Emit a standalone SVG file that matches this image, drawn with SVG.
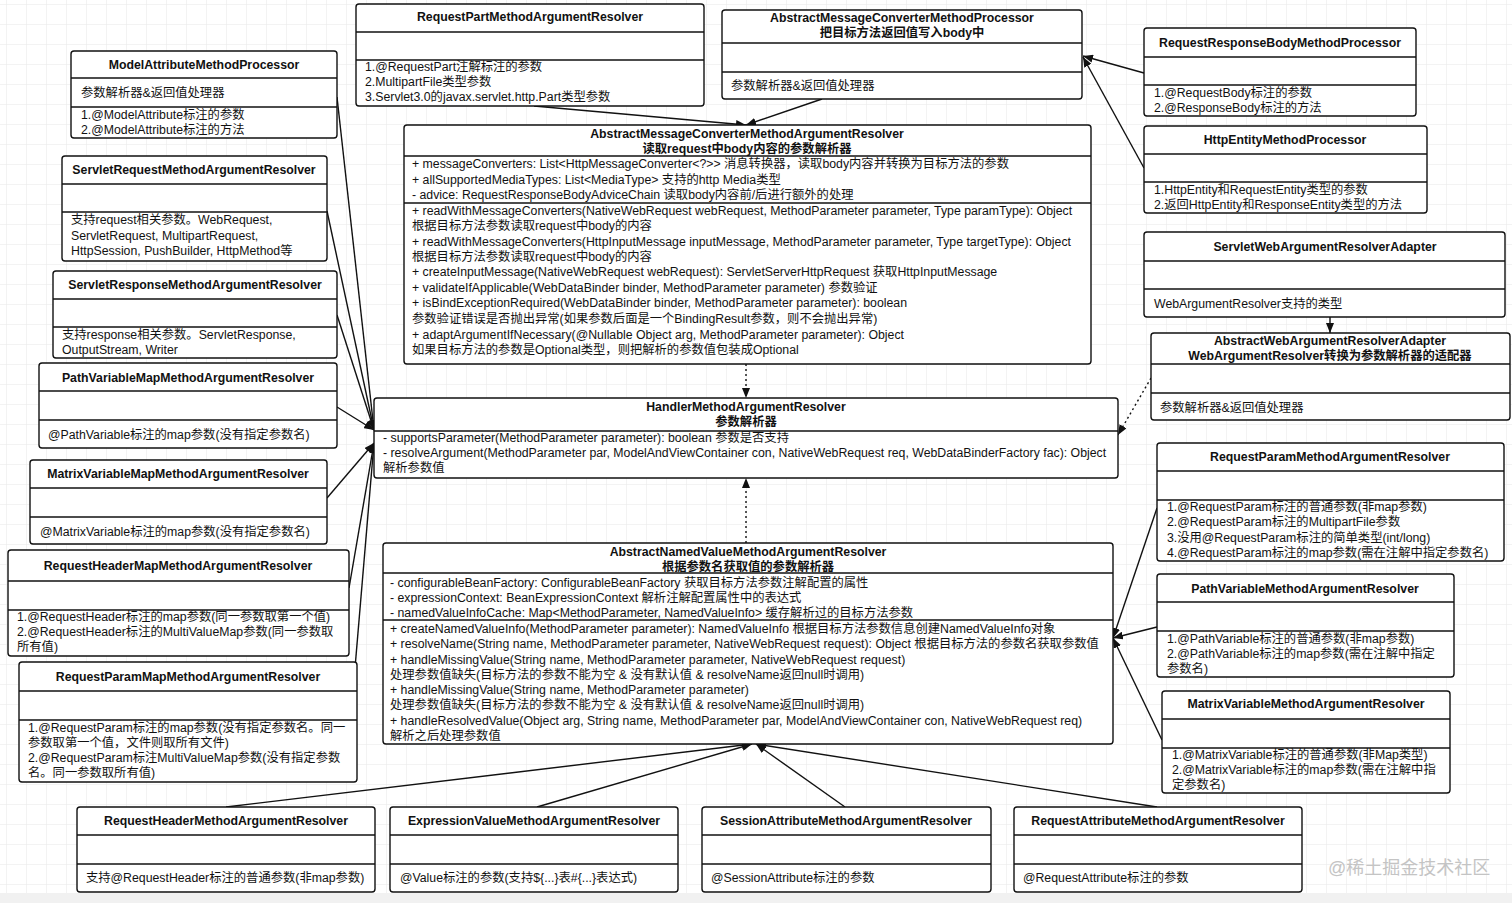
<svg xmlns="http://www.w3.org/2000/svg" width="1512" height="903" viewBox="0 0 1512 903">
<defs>
<pattern id="grid" width="20" height="20" patternUnits="userSpaceOnUse" x="6" y="4">
<path d="M20 0 L0 0 L0 20" fill="none" stroke="#e8e8e8" stroke-width="1"/>
</pattern>
<marker id="arr" viewBox="0 0 10 8" refX="10" refY="4" markerWidth="10" markerHeight="8" markerUnits="userSpaceOnUse" orient="auto">
<path d="M0,0 L10,4 L0,8 z" fill="#111"/>
</marker>
<style>
.box{fill:#fff;stroke:#111;stroke-width:1.4}
.sep{stroke:#111;stroke-width:1.4}
.t{font-family:"Liberation Sans","Noto Sans CJK SC",sans-serif;font-size:12.3px;font-weight:bold;text-anchor:middle;fill:#111}
.b{font-family:"Liberation Sans","Noto Sans CJK SC",sans-serif;font-size:12.3px;fill:#111}
.c{stroke:#111;stroke-width:1.4;fill:none;marker-end:url(#arr)}
.d{stroke-dasharray:2 3}
.wm{font-family:"Liberation Sans","Noto Sans CJK SC",sans-serif;font-size:18px;fill:#c4c4c4}
</style>
</defs>
<rect width="1512" height="903" fill="#fff"/>
<rect width="1512" height="893" fill="url(#grid)"/>
<rect y="893" width="1512" height="10" fill="#f1f1f1"/>

<g id="connectors">
<line class="c" x1="534" y1="106" x2="746" y2="125"/>
<line class="c" x1="822" y1="99" x2="746" y2="125"/>
<line class="c" x1="1144" y1="73" x2="1083" y2="56"/>
<line class="c" x1="1144" y1="168" x2="1083" y2="57"/>
<line class="c d" x1="746" y1="364" x2="746" y2="398"/>
<line class="c d" x1="746" y1="543" x2="746" y2="478"/>
<line class="c d" x1="1151" y1="378" x2="1118" y2="435"/>
<line class="c" x1="1330" y1="317" x2="1330" y2="333"/>
<line class="c" x1="337" y1="97" x2="374" y2="430"/>
<line class="c" x1="327" y1="211" x2="374" y2="430"/>
<line class="c" x1="337" y1="315" x2="374" y2="430"/>
<line class="c" x1="337" y1="407" x2="374" y2="430"/>
<line class="c" x1="327" y1="498" x2="374" y2="443"/>
<line class="c" x1="349" y1="588" x2="374" y2="443"/>
<line class="c" x1="355" y1="668" x2="374" y2="443"/>
<line class="c" x1="1157" y1="508" x2="1113" y2="638"/>
<line class="c" x1="1157" y1="627" x2="1113" y2="638"/>
<line class="c" x1="1162" y1="740" x2="1113" y2="638"/>
<line class="c" x1="226" y1="807" x2="752" y2="744"/>
<line class="c" x1="537" y1="807" x2="752" y2="744"/>
<line class="c" x1="845" y1="807" x2="756" y2="744"/>
<line class="c" x1="1157" y1="807" x2="756" y2="744"/>
</g>

<g id="n-modelattr">
<rect class="box" x="71" y="51" width="266" height="87" rx="3"/>
<line class="sep" x1="71" y1="78" x2="337" y2="78"/>
<line class="sep" x1="71" y1="107" x2="337" y2="107"/>
<text class="t" x="204" y="69">ModelAttributeMethodProcessor</text>
<text class="b" x="81" y="97">参数解析器&amp;返回值处理器</text>
<text class="b" x="81" y="119">1.@ModelAttribute标注的参数</text>
<text class="b" x="81" y="134">2.@ModelAttribute标注的方法</text>
</g>

<g id="n-servletreq">
<rect class="box" x="62" y="156" width="265" height="105" rx="3"/>
<line class="sep" x1="62" y1="184" x2="327" y2="184"/>
<line class="sep" x1="62" y1="212" x2="327" y2="212"/>
<text class="t" x="194" y="174">ServletRequestMethodArgumentResolver</text>
<text class="b" x="71" y="224">支持request相关参数。WebRequest,</text>
<text class="b" x="71" y="240">ServletRequest, MultipartRequest,</text>
<text class="b" x="71" y="255">HttpSession, PushBuilder, HttpMethod等</text>
</g>

<g id="n-servletresp">
<rect class="box" x="53" y="271" width="284" height="87" rx="3"/>
<line class="sep" x1="53" y1="299" x2="337" y2="299"/>
<line class="sep" x1="53" y1="327" x2="337" y2="327"/>
<text class="t" x="195" y="289">ServletResponseMethodArgumentResolver</text>
<text class="b" x="62" y="339">支持response相关参数。ServletResponse,</text>
<text class="b" x="62" y="354">OutputStream, Writer</text>
</g>

<g id="n-pathvarmap">
<rect class="box" x="39" y="363" width="298" height="85" rx="3"/>
<line class="sep" x1="39" y1="391" x2="337" y2="391"/>
<line class="sep" x1="39" y1="420" x2="337" y2="420"/>
<text class="t" x="188" y="382">PathVariableMapMethodArgumentResolver</text>
<text class="b" x="48" y="439">@PathVariable标注的map参数(没有指定参数名)</text>
</g>

<g id="n-matrixmap">
<rect class="box" x="30" y="460" width="297" height="84" rx="3"/>
<line class="sep" x1="30" y1="488" x2="327" y2="488"/>
<line class="sep" x1="30" y1="517" x2="327" y2="517"/>
<text class="t" x="178" y="478">MatrixVariableMapMethodArgumentResolver</text>
<text class="b" x="40" y="536">@MatrixVariable标注的map参数(没有指定参数名)</text>
</g>

<g id="n-reqheadermap">
<rect class="box" x="8" y="550" width="341" height="106" rx="3"/>
<line class="sep" x1="8" y1="581" x2="349" y2="581"/>
<line class="sep" x1="8" y1="610" x2="349" y2="610"/>
<text class="t" x="178" y="570">RequestHeaderMapMethodArgumentResolver</text>
<text class="b" x="17" y="621">1.@RequestHeader标注的map参数(同一参数取第一个值)</text>
<text class="b" x="17" y="636">2.@RequestHeader标注的MultiValueMap参数(同一参数取</text>
<text class="b" x="17" y="651">所有值)</text>
</g>

<g id="n-reqparammap">
<rect class="box" x="19" y="662" width="338" height="120" rx="3"/>
<line class="sep" x1="19" y1="691" x2="357" y2="691"/>
<line class="sep" x1="19" y1="720" x2="357" y2="720"/>
<text class="t" x="188" y="681">RequestParamMapMethodArgumentResolver</text>
<text class="b" x="28" y="732">1.@RequestParam标注的map参数(没有指定参数名。同一</text>
<text class="b" x="28" y="747">参数取第一个值，文件则取所有文件)</text>
<text class="b" x="28" y="762">2.@RequestParam标注MultiValueMap参数(没有指定参数</text>
<text class="b" x="28" y="777">名。同一参数取所有值)</text>
</g>

<g id="n-reqheader">
<rect class="box" x="77" y="807" width="298" height="85" rx="3"/>
<line class="sep" x1="77" y1="835" x2="375" y2="835"/>
<line class="sep" x1="77" y1="864" x2="375" y2="864"/>
<text class="t" x="226" y="825">RequestHeaderMethodArgumentResolver</text>
<text class="b" x="86" y="882">支持@RequestHeader标注的普通参数(非map参数)</text>
</g>

<g id="n-exprvalue">
<rect class="box" x="390" y="807" width="288" height="85" rx="3"/>
<line class="sep" x1="390" y1="835" x2="678" y2="835"/>
<line class="sep" x1="390" y1="864" x2="678" y2="864"/>
<text class="t" x="534" y="825">ExpressionValueMethodArgumentResolver</text>
<text class="b" x="400" y="882">@Value标注的参数(支持${...}表#{...}表达式)</text>
</g>

<g id="n-sessionattr">
<rect class="box" x="702" y="807" width="289" height="85" rx="3"/>
<line class="sep" x1="702" y1="835" x2="991" y2="835"/>
<line class="sep" x1="702" y1="864" x2="991" y2="864"/>
<text class="t" x="846" y="825">SessionAttributeMethodArgumentResolver</text>
<text class="b" x="711" y="882">@SessionAttribute标注的参数</text>
</g>

<g id="n-reqattr">
<rect class="box" x="1014" y="807" width="288" height="85" rx="3"/>
<line class="sep" x1="1014" y1="835" x2="1302" y2="835"/>
<line class="sep" x1="1014" y1="864" x2="1302" y2="864"/>
<text class="t" x="1158" y="825">RequestAttributeMethodArgumentResolver</text>
<text class="b" x="1023" y="882">@RequestAttribute标注的参数</text>
</g>

<g id="n-reqpart">
<rect class="box" x="356" y="4" width="348" height="102" rx="3"/>
<line class="sep" x1="356" y1="32" x2="704" y2="32"/>
<line class="sep" x1="356" y1="60" x2="704" y2="60"/>
<text class="t" x="530" y="21">RequestPartMethodArgumentResolver</text>
<text class="b" x="365" y="71">1.@RequestPart注解标注的参数</text>
<text class="b" x="365" y="86">2.MultipartFile类型参数</text>
<text class="b" x="365" y="101">3.Servlet3.0的javax.servlet.http.Part类型参数</text>
</g>

<g id="n-amcmp">
<rect class="box" x="722" y="10" width="360" height="89" rx="3"/>
<line class="sep" x1="722" y1="43" x2="1082" y2="43"/>
<line class="sep" x1="722" y1="72" x2="1082" y2="72"/>
<text class="t" x="902" y="22">AbstractMessageConverterMethodProcessor</text>
<text class="t" x="902" y="37">把目标方法返回值写入body中</text>
<text class="b" x="731" y="90">参数解析器&amp;返回值处理器</text>
</g>

<g id="n-amcmar">
<rect class="box" x="404" y="125" width="687" height="239" rx="3"/>
<line class="sep" x1="404" y1="156" x2="1091" y2="156"/>
<line class="sep" x1="404" y1="203" x2="1091" y2="203"/>
<text class="t" x="747" y="138">AbstractMessageConverterMethodArgumentResolver</text>
<text class="t" x="747" y="153">读取request中body内容的参数解析器</text>
<text class="b" x="412" y="168">+ messageConverters: List&lt;HttpMessageConverter&lt;?&gt;&gt; 消息转换器，读取body内容并转换为目标方法的参数</text>
<text class="b" x="412" y="184">+ allSupportedMediaTypes: List&lt;MediaType&gt; 支持的http Media类型</text>
<text class="b" x="412" y="199">- advice: RequestResponseBodyAdviceChain 读取body内容前/后进行额外的处理</text>
<text class="b" x="412" y="215">+ readWithMessageConverters(NativeWebRequest webRequest, MethodParameter parameter, Type paramType): Object</text>
<text class="b" x="412" y="230">根据目标方法参数读取request中body的内容</text>
<text class="b" x="412" y="246">+ readWithMessageConverters(HttpInputMessage inputMessage, MethodParameter parameter, Type targetType): Object</text>
<text class="b" x="412" y="261">根据目标方法参数读取request中body的内容</text>
<text class="b" x="412" y="276">+ createInputMessage(NativeWebRequest webRequest): ServletServerHttpRequest 获取HttpInputMessage</text>
<text class="b" x="412" y="292">+ validateIfApplicable(WebDataBinder binder, MethodParameter parameter)  参数验证</text>
<text class="b" x="412" y="307">+ isBindExceptionRequired(WebDataBinder binder, MethodParameter parameter): boolean</text>
<text class="b" x="412" y="323">参数验证错误是否抛出异常(如果参数后面是一个BindingResult参数，则不会抛出异常)</text>
<text class="b" x="412" y="339">+ adaptArgumentIfNecessary(@Nullable Object arg, MethodParameter parameter): Object</text>
<text class="b" x="412" y="354">如果目标方法的参数是Optional类型，则把解析的参数值包装成Optional</text>
</g>

<g id="n-rrbmp">
<rect class="box" x="1144" y="28" width="272" height="88" rx="3"/>
<line class="sep" x1="1144" y1="57" x2="1416" y2="57"/>
<line class="sep" x1="1144" y1="85" x2="1416" y2="85"/>
<text class="t" x="1280" y="47">RequestResponseBodyMethodProcessor</text>
<text class="b" x="1154" y="97">1.@RequestBody标注的参数</text>
<text class="b" x="1154" y="112">2.@ResponseBody标注的方法</text>
</g>

<g id="n-httpentity">
<rect class="box" x="1144" y="126" width="283" height="87" rx="3"/>
<line class="sep" x1="1144" y1="154" x2="1427" y2="154"/>
<line class="sep" x1="1144" y1="182" x2="1427" y2="182"/>
<text class="t" x="1285" y="144">HttpEntityMethodProcessor</text>
<text class="b" x="1154" y="194">1.HttpEntity和RequestEntity类型的参数</text>
<text class="b" x="1154" y="209">2.返回HttpEntity和ResponseEntity类型的方法</text>
</g>

<g id="n-swara">
<rect class="box" x="1144" y="232" width="361" height="85" rx="3"/>
<line class="sep" x1="1144" y1="261" x2="1505" y2="261"/>
<line class="sep" x1="1144" y1="289" x2="1505" y2="289"/>
<text class="t" x="1325" y="251">ServletWebArgumentResolverAdapter</text>
<text class="b" x="1154" y="308">WebArgumentResolver支持的类型</text>
</g>

<g id="n-awara">
<rect class="box" x="1151" y="333" width="359" height="87" rx="3"/>
<line class="sep" x1="1151" y1="364" x2="1510" y2="364"/>
<line class="sep" x1="1151" y1="393" x2="1510" y2="393"/>
<text class="t" x="1330" y="345">AbstractWebArgumentResolverAdapter</text>
<text class="t" x="1330" y="360">WebArgumentResolver转换为参数解析器的适配器</text>
<text class="b" x="1160" y="412">参数解析器&amp;返回值处理器</text>
</g>

<g id="n-hmar">
<rect class="box" x="374" y="398" width="744" height="80" rx="3"/>
<line class="sep" x1="374" y1="431" x2="1118" y2="431"/>
<text class="t" x="746" y="411">HandlerMethodArgumentResolver</text>
<text class="t" x="746" y="426">参数解析器</text>
<text class="b" x="383" y="442">- supportsParameter(MethodParameter parameter): boolean 参数是否支持</text>
<text class="b" x="383" y="457">- resolveArgument(MethodParameter par, ModelAndViewContainer con, NativeWebRequest req, WebDataBinderFactory fac): Object</text>
<text class="b" x="383" y="472">解析参数值</text>
</g>

<g id="n-anvmar">
<rect class="box" x="383" y="543" width="730" height="201" rx="3"/>
<line class="sep" x1="383" y1="573" x2="1113" y2="573"/>
<line class="sep" x1="383" y1="620" x2="1113" y2="620"/>
<text class="t" x="748" y="556">AbstractNamedValueMethodArgumentResolver</text>
<text class="t" x="748" y="571">根据参数名获取值的参数解析器</text>
<text class="b" x="390" y="587">- configurableBeanFactory: ConfigurableBeanFactory 获取目标方法参数注解配置的属性</text>
<text class="b" x="390" y="602">- expressionContext: BeanExpressionContext 解析注解配置属性中的表达式</text>
<text class="b" x="390" y="617">- namedValueInfoCache: Map&lt;MethodParameter, NamedValueInfo&gt; 缓存解析过的目标方法参数</text>
<text class="b" x="390" y="633">+ createNamedValueInfo(MethodParameter parameter): NamedValueInfo 根据目标方法参数信息创建NamedValueInfo对象</text>
<text class="b" x="390" y="648">+ resolveName(String name, MethodParameter parameter, NativeWebRequest request): Object 根据目标方法的参数名获取参数值</text>
<text class="b" x="390" y="664">+ handleMissingValue(String name, MethodParameter parameter, NativeWebRequest request)</text>
<text class="b" x="390" y="679">处理参数值缺失(目标方法的参数不能为空 &amp; 没有默认值 &amp; resolveName返回null时调用)</text>
<text class="b" x="390" y="694">+ handleMissingValue(String name, MethodParameter parameter)</text>
<text class="b" x="390" y="709">处理参数值缺失(目标方法的参数不能为空 &amp; 没有默认值 &amp; resolveName返回null时调用)</text>
<text class="b" x="390" y="725">+ handleResolvedValue(Object arg, String name, MethodParameter par, ModelAndViewContainer con, NativeWebRequest req)</text>
<text class="b" x="390" y="740">解析之后处理参数值</text>
</g>

<g id="n-reqparam">
<rect class="box" x="1157" y="443" width="347" height="118" rx="3"/>
<line class="sep" x1="1157" y1="471" x2="1504" y2="471"/>
<line class="sep" x1="1157" y1="500" x2="1504" y2="500"/>
<text class="t" x="1330" y="461">RequestParamMethodArgumentResolver</text>
<text class="b" x="1167" y="511">1.@RequestParam标注的普通参数(非map参数)</text>
<text class="b" x="1167" y="526">2.@RequestParam标注的MultipartFile参数</text>
<text class="b" x="1167" y="542">3.没用@RequestParam标注的简单类型(int/long)</text>
<text class="b" x="1167" y="557">4.@RequestParam标注的map参数(需在注解中指定参数名)</text>
</g>

<g id="n-pathvar">
<rect class="box" x="1157" y="574" width="297" height="103" rx="3"/>
<line class="sep" x1="1157" y1="602" x2="1454" y2="602"/>
<line class="sep" x1="1157" y1="631" x2="1454" y2="631"/>
<text class="t" x="1305" y="593">PathVariableMethodArgumentResolver</text>
<text class="b" x="1167" y="643">1.@PathVariable标注的普通参数(非map参数)</text>
<text class="b" x="1167" y="658">2.@PathVariable标注的map参数(需在注解中指定</text>
<text class="b" x="1167" y="673">参数名)</text>
</g>

<g id="n-matrixvar">
<rect class="box" x="1162" y="691" width="288" height="102" rx="3"/>
<line class="sep" x1="1162" y1="719" x2="1450" y2="719"/>
<line class="sep" x1="1162" y1="748" x2="1450" y2="748"/>
<text class="t" x="1306" y="708">MatrixVariableMethodArgumentResolver</text>
<text class="b" x="1172" y="759">1.@MatrixVariable标注的普通参数(非Map类型)</text>
<text class="b" x="1172" y="774">2.@MatrixVariable标注的map参数(需在注解中指</text>
<text class="b" x="1172" y="789">定参数名)</text>
</g>

<text class="wm" x="1328" y="874">@稀土掘金技术社区</text>
</svg>
